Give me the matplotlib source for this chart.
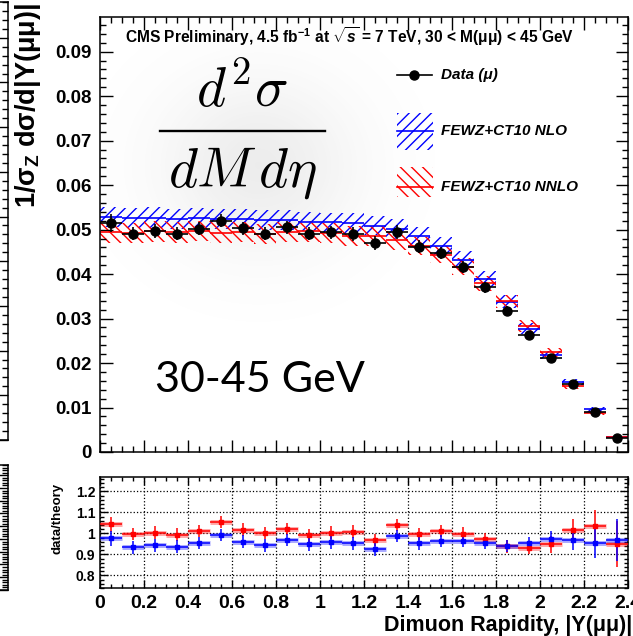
import numpy as np
import matplotlib
matplotlib.use("Agg")
import matplotlib.pyplot as plt
from matplotlib.ticker import MultipleLocator, FixedLocator

# ----------------------------------------------------------
# Binned dimuon rapidity data, 30 < M < 45 GeV
# ----------------------------------------------------------
rap_center = [0.05, 0.15, 0.25, 0.35, 0.45, 0.55, 0.65, 0.75, 0.85, 0.95, 1.05, 1.15,
              1.25, 1.35, 1.45, 1.55, 1.65, 1.75, 1.85, 1.95, 2.05, 2.15, 2.25, 2.35]
bin_half = 0.05

data_val = [0.0515, 0.0491, 0.0497, 0.0491, 0.0502, 0.0520, 0.0503, 0.0491, 0.0505, 0.0491, 0.0494, 0.0490,
            0.0470, 0.0495, 0.0462, 0.0448, 0.0416, 0.0370, 0.0318, 0.0264, 0.0212, 0.0152, 0.0091, 0.0032]
data_err = [0.0020, 0.0015, 0.0015, 0.0015, 0.0015, 0.0015, 0.0015, 0.0015, 0.0015, 0.0015, 0.0015, 0.0015,
            0.0015, 0.0015, 0.0014, 0.0014, 0.0013, 0.0012, 0.0010, 0.0008, 0.0007, 0.0005, 0.0004, 0.0002]

nlo_val = [0.0528, 0.0526, 0.0527, 0.0524, 0.0526, 0.0524, 0.0524, 0.0521, 0.0522, 0.0518, 0.0516, 0.0515,
           0.0509, 0.0502, 0.0485, 0.0464, 0.0432, 0.0389, 0.0338, 0.0277, 0.0218, 0.0157, 0.0096, 0.0033]
nlo_err = [0.0023, 0.0023, 0.0023, 0.0023, 0.0023, 0.0023, 0.0023, 0.0022, 0.0022, 0.0022, 0.0022, 0.0022,
           0.0022, 0.0022, 0.0021, 0.0020, 0.0019, 0.0017, 0.0015, 0.0012, 0.0010, 0.0007, 0.0005, 0.0002]

nnlo_val = [0.0494, 0.0492, 0.0496, 0.0494, 0.0497, 0.0493, 0.0495, 0.0490, 0.0495, 0.0496, 0.0493, 0.0486,
            0.0486, 0.0476, 0.0463, 0.0444, 0.0417, 0.0379, 0.0339, 0.0283, 0.0224, 0.0149, 0.0088, 0.0034]
nnlo_err = [0.0023, 0.0023, 0.0023, 0.0023, 0.0023, 0.0023, 0.0023, 0.0022, 0.0023, 0.0023, 0.0022, 0.0022,
            0.0022, 0.0021, 0.0021, 0.0020, 0.0019, 0.0017, 0.0015, 0.0013, 0.0010, 0.0007, 0.0004, 0.0002]

# data/theory ratios
ratio_nlo = [0.976, 0.933, 0.943, 0.937, 0.954, 0.992, 0.960, 0.943, 0.968, 0.948, 0.957, 0.952,
             0.924, 0.987, 0.952, 0.965, 0.963, 0.952, 0.940, 0.952, 0.973, 0.968, 0.952, 0.968]
ratio_nlo_err = [0.035, 0.030, 0.030, 0.030, 0.028, 0.028, 0.030, 0.030, 0.030, 0.030, 0.030, 0.030,
                 0.030, 0.030, 0.030, 0.028, 0.030, 0.025, 0.030, 0.030, 0.040, 0.045, 0.070, 0.100]
ratio_nnlo = [1.043, 0.997, 1.003, 0.994, 1.011, 1.054, 1.017, 1.002, 1.021, 0.990, 1.003, 1.008,
              0.968, 1.040, 0.997, 1.010, 0.998, 0.975, 0.938, 0.932, 0.948, 1.017, 1.037, 0.948]
ratio_nnlo_err = [0.035, 0.030, 0.030, 0.030, 0.028, 0.028, 0.030, 0.030, 0.030, 0.030, 0.030, 0.030,
                  0.030, 0.030, 0.030, 0.028, 0.030, 0.025, 0.030, 0.030, 0.040, 0.050, 0.075, 0.110]

xtick_pos = [0, 0.2, 0.4, 0.6, 0.8, 1.0, 1.2, 1.4, 1.6, 1.8, 2.0, 2.2, 2.4]
xtick_lbl = ["0", "0.2", "0.4", "0.6", "0.8", "1", "1.2", "1.4", "1.6", "1.8", "2", "2.2", "2.4"]
rtick_pos = [0.8, 0.9, 1.0, 1.1, 1.2]
rtick_lbl = ["0.8", "0.9", "1", "1.1", "1.2"]
ytick_pos = [0, 0.01, 0.02, 0.03, 0.04, 0.05, 0.06, 0.07, 0.08, 0.09]
ytick_lbl = ["0", "0.01", "0.02", "0.03", "0.04", "0.05", "0.06", "0.07", "0.08", "0.09"]

x = np.array(rap_center)
data_val = np.array(data_val)
nlo_val, nlo_err = np.array(nlo_val), np.array(nlo_err)
nnlo_val, nnlo_err = np.array(nnlo_val), np.array(nnlo_err)

# ----------------------------------------------------------
# Style
# ----------------------------------------------------------
plt.rcParams["font.family"] = ["Liberation Sans", "DejaVu Sans"]
plt.rcParams["font.weight"] = "bold"
plt.rcParams["mathtext.fontset"] = "custom"
plt.rcParams["mathtext.rm"] = "Liberation Sans:bold"
plt.rcParams["mathtext.it"] = "Liberation Sans:italic:bold"
plt.rcParams["mathtext.bf"] = "Liberation Sans:bold"
plt.rcParams["hatch.linewidth"] = 1.0

W, H = 633, 636
fig = plt.figure(figsize=(W / 100, H / 100), dpi=100)


def fig_box(left, top, right, bottom):
    return [left / W, 1 - bottom / H, (right - left) / W, (bottom - top) / H]


def root_ticks(a, major_len=9, minor_len=4.5):
    a.tick_params(which="both", direction="in", top=True, right=True, width=1.0)
    a.tick_params(which="major", length=major_len)
    a.tick_params(which="minor", length=minor_len)
    for s in a.spines.values():
        s.set_linewidth(1.1)


# neighbouring panels, only their right edge shows
for box in [(-300, 2, 8, 440), (-300, 465, 8, 590)]:
    fa = fig.add_axes(fig_box(*box))
    fa.set_xlim(0, 2.4)
    fa.set_ylim(0, 0.098)
    fa.yaxis.set_major_locator(MultipleLocator(0.01))
    fa.yaxis.set_minor_locator(MultipleLocator(0.002))
    root_ticks(fa)
    fa.tick_params(labelleft=False, labelbottom=False)

ax = fig.add_axes(fig_box(100, 17, 628, 452))
rax = fig.add_axes(fig_box(100, 477, 628, 588))

# ----------------------------------------------------------
# Main panel
# ----------------------------------------------------------
# soft grey glow behind the formula
gx, gy = np.meshgrid(np.linspace(0, 1, 300), np.linspace(0, 1, 300))
glow = np.zeros((300, 300, 4))
glow[..., :3] = 0.35
glow[..., 3] = 0.11 * np.exp(-((gx - 0.30) ** 2 / (2 * 0.13 ** 2) + (gy - 0.66) ** 2 / (2 * 0.14 ** 2)))
ax.imshow(glow, extent=[0, 1, 0, 1], transform=ax.transAxes, origin="lower",
          aspect="auto", zorder=0.3, interpolation="bilinear")

ax.bar(x, 2 * nlo_err, bottom=nlo_val - nlo_err, width=2 * bin_half, facecolor="none",
       edgecolor="blue", hatch="///", linewidth=0, zorder=1)
ax.bar(x, 2 * nnlo_err, bottom=nnlo_val - nnlo_err, width=2 * bin_half, facecolor="none",
       edgecolor="red", hatch="\\\\\\", linewidth=0, zorder=1)
ax.hlines(nlo_val, x - bin_half, x + bin_half, color="blue", lw=1.2, zorder=2)
ax.hlines(nnlo_val, x - bin_half, x + bin_half, color="red", lw=1.2, zorder=2)
ax.errorbar(x, data_val, xerr=bin_half, yerr=data_err, fmt="o", color="black",
            ms=6.5, lw=1.2, capsize=0, zorder=3)

ax.set_xlim(0, 2.4)
ax.set_ylim(0, 0.0978)
ax.xaxis.set_major_locator(MultipleLocator(0.2))
ax.xaxis.set_minor_locator(MultipleLocator(0.05))
ax.yaxis.set_major_locator(FixedLocator(ytick_pos))
ax.yaxis.set_minor_locator(MultipleLocator(0.002))
ax.set_yticklabels(ytick_lbl, fontsize=13.5, fontweight="bold")
root_ticks(ax)
ax.tick_params(labelbottom=False, pad=6)

ax.text(0.047, 0.954, "CMS Preliminary, 4.5 fb$^{-1}$ at $\\sqrt{s}$ = 7 TeV, 30 < M(μμ) < 45 GeV",
        transform=ax.transAxes, fontsize=11.2, fontweight="bold", va="center", ha="left")

# legend
ax.plot([0.5625, 0.629], [0.8667, 0.8667], color="black", lw=1.2, transform=ax.transAxes)
ax.plot([0.5956], [0.8667], "o", color="black", ms=6.5, transform=ax.transAxes)
ax.text(0.646, 0.8667, "Data (μ)", transform=ax.transAxes, fontsize=11,
        fontweight="bold", style="italic", va="center")
for y0, y1, yl, col, hatch, lbl in [(0.694, 0.779, 0.738, "blue", "///", "FEWZ+CT10 NLO"),
                                    (0.586, 0.655, 0.609, "red", "\\\\\\", "FEWZ+CT10 NNLO")]:
    ax.add_patch(plt.Rectangle((0.5625, y0), 0.068, y1 - y0, transform=ax.transAxes,
                               facecolor="none", edgecolor=col, hatch=hatch, linewidth=0))
    ax.plot([0.5625, 0.6305], [yl, yl], color=col, lw=1.2, transform=ax.transAxes)
    ax.text(0.646, yl, lbl, transform=ax.transAxes, fontsize=11,
            fontweight="bold", style="italic", va="center")

# formula
ax.text(0.268, 0.828, r"$d^2\sigma$", transform=ax.transAxes, fontsize=40,
        math_fontfamily="cm", ha="center", va="center")
ax.plot([0.114, 0.426], [0.738, 0.738], color="black", lw=1.7, transform=ax.transAxes)
ax.text(0.27, 0.642, r"$dM\,d\eta$", transform=ax.transAxes, fontsize=40,
        math_fontfamily="cm", ha="center", va="center")

ax.text(0.303, 0.166, "30-45 GeV", transform=ax.transAxes, fontsize=31,
        family="Lato", fontweight="normal", ha="center", va="center")

# ----------------------------------------------------------
# Ratio panel
# ----------------------------------------------------------
rax.hlines(ratio_nnlo, x - bin_half, x + bin_half, color="red", lw=3.5, alpha=0.35, zorder=2)
rax.hlines(ratio_nlo, x - bin_half, x + bin_half, color="blue", lw=3.5, alpha=0.35, zorder=2)
rax.errorbar(x, ratio_nnlo, xerr=bin_half, yerr=ratio_nnlo_err, fmt="s", color="red",
             ms=2.5, lw=1.1, capsize=0, zorder=3)
rax.errorbar(x, ratio_nlo, xerr=bin_half, yerr=ratio_nlo_err, fmt="s", color="blue",
             ms=2.5, lw=1.1, capsize=0, zorder=3)

rax.set_xlim(0, 2.4)
rax.set_ylim(0.74, 1.268)
rax.xaxis.set_major_locator(FixedLocator(xtick_pos))
rax.xaxis.set_minor_locator(MultipleLocator(0.05))
rax.set_xticklabels(xtick_lbl, fontsize=14, fontweight="bold")
rax.yaxis.set_major_locator(FixedLocator(rtick_pos))
rax.yaxis.set_minor_locator(MultipleLocator(0.02))
rax.set_yticklabels(rtick_lbl, fontsize=10, fontweight="bold")
root_ticks(rax, major_len=6, minor_len=3)
rax.tick_params(axis="x", pad=5)
rax.grid(which="major", ls=":", color="black", lw=0.9)

# axis titles
fig.text(28 / W, 1 - 3 / H, "1/σ$_{\\rm Z}$ dσ/d|Y(μμ)|", rotation=90, ha="center", va="top",
         fontsize=19.5, fontweight="bold")
fig.text(57 / W, 1 - 518 / H, "data/theory", rotation=90, ha="center", va="center",
         fontsize=9.5, fontweight="bold")
fig.text(632 / W, 1 - 625 / H, "Dimuon Rapidity, |Y(μμ)|", ha="right", va="center",
         fontsize=15.5, fontweight="bold")

fig.savefig("out.png", dpi=100)
